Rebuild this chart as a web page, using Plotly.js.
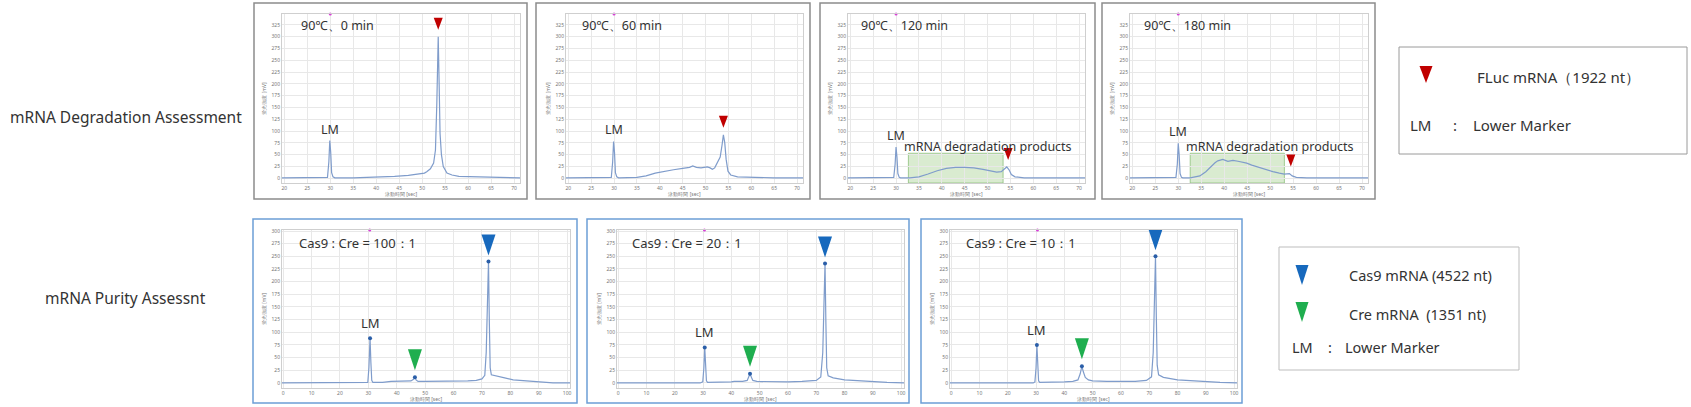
<!DOCTYPE html>
<html><head><meta charset="utf-8">
<script src="https://cdn.plot.ly/plotly-3.0.1.min.js"></script>
<style>html,body{margin:0;padding:0;background:#fff}#chart{width:1691px;height:407px}</style>
</head><body><div id="chart"></div>
<script>
// ---------- DATA ----------
// Degradation assessment (90°C heat): migration time (sec) vs signal (mV)
const deg0_x  = [19.5,25,29,29.4,29.7,29.9,30.1,30.3,30.6,31,35,40,44,47,49,50.5,51,51.8,52.5,52.9,53.2,53.5,53.7,53.9,54.2,54.6,55.4,56.5,58,62,66,71.3];
const deg0_y  = [1,1,1,2,35,80,55,12,3,1,1,2,4,6,8,11,14,20,32,60,160,300,200,95,50,25,11,7,4,3,2,1];
const deg60_x = [19.5,25,29,29.4,29.7,29.9,30.1,30.3,30.6,31,35,37,39,41,43,45,46.5,47.2,48,49,50.4,51,51.5,52,52.6,53.2,53.6,53.9,54.2,54.5,54.9,55.5,57,60,65,71.3];
const deg60_y = [1,1,1,2,35,78,55,12,3,1,2,5,11,15,18,21,23,26,23,22,24,22,19,22,32,45,70,92,75,40,15,7,3,2,1,1];
const deg120_x = [19.5,25,29,29.5,29.8,30,30.2,30.4,30.7,31,33,35,37,39,41,43,45,47,49,51,52,53,53.7,54.2,54.7,55.2,56,58,71.3];
const deg120_y = [1,1,1,2,30,66,45,10,2,1,1,3,9,16,21,23,23,22,19,15,13,14,19,24,18,8,3,1,1];
const deg180_x = [19.5,25,29,29.5,29.8,30,30.2,30.4,30.7,31,32.6,34.7,36,36.9,38,38.6,39.7,40.8,41.9,43,44.9,46,47.7,49,50.6,52,53.1,54.2,54.8,55.7,58,71.3];
const deg180_y = [1,1,1,2,30,74,50,10,2,1,1,5,14,23,33,37,40,36,38,36,32,28,23,18,14,11,9,10,5,2,1,1];
// FLuc mRNA peak (x, y) per degradation panel
const flucPeakX = [53.5,53.9,54.5,54.5];
const flucPeakY = [300,92,24,10];
// Lower marker peak per degradation panel
const degLmX = [29.9,29.9,30,30];
const degLmY = [80,78,66,74];
// Degradation product region (sec) for 120 and 180 min
const degRegionStart = [32.7,32.6];
const degRegionEnd   = [53.4,53.1];
const degRegionTop   = [53,53];
const degTitles = ["90℃、0 min","90℃、60 min","90℃、120 min","90℃、180 min"];

// Purity assessment: Cas9 : Cre mixtures
const r100_x = [-0.4,10,20,29,29.8,30.2,30.6,30.9,31.2,31.6,35,38,42,45,45.9,46.4,46.8,47.5,50,55,60,65,68,70,71,71.5,71.9,72.3,72.6,72.9,73.3,75.3,78,81,85,90,93,95,101];
const r100_y = [0,0,0,0,1,30,88,40,5,1,1,3,3,4,7,11,6,3,3,3,3,4,5,8,15,60,150,240,120,30,16,14,10,6,4,2,1,0,0];
const r20_x = [-0.4,10,20,29,29.9,30.3,30.6,30.9,31.2,31.6,35,40,41,44,45.6,46.2,46.6,47,47.6,49,55,60,65,70,71.6,72.3,72.7,73.1,73.4,73.7,74.2,76,80,85,90,95,101];
const r20_y = [0,0,0,0,2,30,70,30,4,1,1,2,3,3,5,14,18,12,5,3,2,2,3,5,12,60,150,236,120,30,14,10,6,4,2,1,0];
const r10_x = [-0.4,10,20,29,29.6,30,30.3,30.6,30.9,31.3,35,40,43,44.8,45.6,46.2,46.7,47.4,48.5,50,55,60,65,69,70.8,71.4,71.8,72.2,72.5,72.8,73.3,75,80,85,90,95,101];
const r10_y = [0,0,0,0,2,30,75,30,4,1,1,2,3,6,18,33,22,11,6,4,3,3,3,5,12,60,150,250,130,35,16,11,6,4,2,1,0];
const purLmX  = [30.6,30.6,30.3];  const purLmY  = [88,70,75];
const creX    = [46.4,46.6,46.2];  const creY    = [11,18,33];
const cas9X   = [72.3,73.1,72.2];  const cas9Y   = [240,236,250];
const purTitles = ["Cas9 : Cre = 100：1","Cas9 : Cre = 20：1","Cas9 : Cre = 10：1"];

const rowLabels = ["mRNA Degradation Assessment","mRNA Purity Assessnt"];
const legTop = ["FLuc mRNA（1922 nt）","LM",":","Lower Marker"];
const legBot = ["Cas9 mRNA (4522 nt)","Cre mRNA  (1351 nt)","LM",":","Lower Marker"];

// ---------- LAYOUT ----------
const W=1691, H=407;
const px = v => v/W, py = v => 1 - v/H;
const FONT = "Noto Sans, DejaVu Sans, sans-serif";
const LINE = '#7f9ccb', RED='#c00000', BLUE='#1769bd', GREEN='#1fae4f';

const topDom = [[282,520],[566,803],[848,1085],[1130,1368]];
const botDom = [[282,570],[617,904],[950,1237]];
const topFrames = [[254,527],[536,810],[820,1095],[1102,1375]];
const botFrames = [[253,577],[587,909],[921,1242]];
const topRange=[-10,348], botRange=[-10,302];
const xTopRange=[19.5,71.3], xBotRange=[-0.4,101];

const layout = {width:W, height:H, margin:{l:0,r:0,t:0,b:0}, showlegend:false,
  paper_bgcolor:'#fff', plot_bgcolor:'#fff', font:{family:FONT, color:'#333'},
  shapes:[], annotations:[]};
const data = [];

function axes(i, dom, yDom, xr, yr, dx){
  const xk = i===1?'xaxis':'xaxis'+i, yk = i===1?'yaxis':'yaxis'+i;
  layout[xk] = {domain:[px(dom[0]),px(dom[1])], range:xr, dtick:dx, tick0:0, anchor:'y'+(i===1?'':i),
    showgrid:true, gridcolor:'#e8e8e8', gridwidth:1, zeroline:false, showline:true, mirror:true, linecolor:'#cfcfcf',
    ticks:'', tickfont:{size:5,color:'#777'},
    title:{text:'泳動時間 [sec]', font:{size:5,color:'#777'}, standoff:2}};
  layout[yk] = {domain:yDom, range:yr, dtick:25, tick0:0, anchor:'x'+(i===1?'':i),
    showgrid:true, gridcolor:'#e8e8e8', gridwidth:1, zeroline:false, showline:true, mirror:true, linecolor:'#cfcfcf',
    ticks:'', tickfont:{size:5,color:'#777'},
    title:{text:'蛍光強度 [mV]', font:{size:5,color:'#777'}, standoff:4}};
  return [i===1?'x':'x'+i, i===1?'y':'y'+i];
}
function tri(xref,yref,xa,ya,w,h,gap,color){
  return {type:'path', xref, yref, xsizemode:'pixel', ysizemode:'pixel', xanchor:xa, yanchor:ya,
    path:`M${-w/2},${gap+h} L${w/2},${gap+h} L0,${gap} Z`, fillcolor:color, line:{width:0}, layer:'above'};
}
function frame(x0,x1,y0,y1,color,w){
  layout.shapes.push({type:'rect', xref:'paper', yref:'paper', x0:px(x0), x1:px(x1), y0:py(y1), y1:py(y0),
    line:{color, width:w||1.5}, fillcolor:'rgba(0,0,0,0)'});
}
function ann(text,x,y,size,anchor){
  layout.annotations.push({text, xref:'paper', yref:'paper', x:px(x), y:py(y), xanchor:anchor||'left',
    yanchor:'middle', showarrow:false, font:{size, color:'#333', family:FONT}});
}

const topY = [py(183), py(14)], botY = [py(388), py(230)];
const degX = [deg0_x,deg60_x,deg120_x,deg180_x], degY=[deg0_y,deg60_y,deg120_y,deg180_y];
const titleTopX = [299,580,859,1142];
for(let k=0;k<4;k++){
  const [xa,ya] = axes(k+1, topDom[k], topY, xTopRange, topRange, 5);
  data.push({x:degX[k], y:degY[k], xaxis:xa, yaxis:ya, type:'scatter', mode:'lines', line:{color:LINE,width:1.2}});
  data.push({x:[30], y:[topRange[1]], xaxis:xa, yaxis:ya, type:'scatter', mode:'markers', cliponaxis:false,
    marker:{size:3,color:'#d63fd6'}});
  layout.shapes.push(tri(xa,ya,flucPeakX[k],flucPeakY[k],9,12,7,RED));
  layout.annotations.push({text:'LM', xref:xa, yref:ya, x:degLmX[k], y:degLmY[k], yanchor:'bottom', yshift:1,
    showarrow:false, font:{size:12.5,color:'#333',family:FONT}});
  frame(topFrames[k][0],topFrames[k][1],3,199,'#8c8c8c');
  ann(degTitles[k], titleTopX[k], 26, 12.5);
}
for(let j=0;j<2;j++){
  const xa = 'x'+(j+3), ya='y'+(j+3);
  layout.shapes.push({type:'rect', xref:xa, yref:ya, x0:degRegionStart[j], x1:degRegionEnd[j], y0:topRange[0], y1:degRegionTop[j],
    fillcolor:'rgba(170,210,150,0.45)', line:{color:'rgba(130,185,110,0.7)',width:1}, layer:'below'});
}
ann('mRNA degradation products', 902, 146, 12.5);
ann('mRNA degradation products', 1184, 146, 12.5);

const purX=[r100_x,r20_x,r10_x], purY=[r100_y,r20_y,r10_y];
const titleBotX=[297,630,964];
for(let k=0;k<3;k++){
  const [xa,ya] = axes(k+5, botDom[k], botY, xBotRange, botRange, 10);
  data.push({x:purX[k], y:purY[k], xaxis:xa, yaxis:ya, type:'scatter', mode:'lines', line:{color:LINE,width:1.2}});
  data.push({x:[purLmX[k],creX[k],cas9X[k]], y:[purLmY[k],creY[k],cas9Y[k]], xaxis:xa, yaxis:ya, type:'scatter', mode:'markers',
    marker:{size:4,color:'#2a5ea8'}});
  data.push({x:[30.5], y:[botRange[1]], xaxis:xa, yaxis:ya, type:'scatter', mode:'markers', cliponaxis:false,
    marker:{size:3,color:'#d63fd6'}});
  layout.shapes.push(tri(xa,ya,creX[k],creY[k],14,21,7,GREEN));
  layout.shapes.push(tri(xa,ya,cas9X[k],cas9Y[k],14,21,6,BLUE));
  layout.annotations.push({text:'LM', xref:xa, yref:ya, x:purLmX[k], y:purLmY[k], yanchor:'bottom', yshift:4,
    showarrow:false, font:{size:13,color:'#333',family:FONT}});
  frame(botFrames[k][0],botFrames[k][1],219,403,'#6c9fd6');
  ann(purTitles[k], titleBotX[k], 243, 13);
}

// Row labels
ann(rowLabels[0], 126, 117, 15.5, 'center');
ann(rowLabels[1], 125, 298, 15.5, 'center');

// Legend (top)
frame(1399,1687,47,154,'#9a9a9a',1);
layout.shapes.push({type:'path', xref:'paper', yref:'paper', xsizemode:'pixel', ysizemode:'pixel', xanchor:px(1426), yanchor:py(83),
  path:'M-6.5,17 L6.5,17 L0,0 Z', fillcolor:RED, line:{width:0}});
ann(legTop[0], 1475, 77, 15);
ann(legTop[1], 1408, 125, 15);
ann(legTop[2], 1451, 125, 15);
ann(legTop[3], 1471, 125, 15);

// Legend (bottom)
frame(1279,1519,247,370,'#bdbdbd',1);
layout.shapes.push({type:'path', xref:'paper', yref:'paper', xsizemode:'pixel', ysizemode:'pixel', xanchor:px(1302), yanchor:py(285),
  path:'M-6.5,20 L6.5,20 L0,0 Z', fillcolor:BLUE, line:{width:0}});
layout.shapes.push({type:'path', xref:'paper', yref:'paper', xsizemode:'pixel', ysizemode:'pixel', xanchor:px(1302), yanchor:py(322),
  path:'M-6.5,20 L6.5,20 L0,0 Z', fillcolor:GREEN, line:{width:0}});
ann(legBot[0], 1347, 275, 14.5);
ann(legBot[1], 1347, 314, 14.5);
ann(legBot[2], 1290, 347, 14.5);
ann(legBot[3], 1326, 347, 14.5);
ann(legBot[4], 1343, 347, 14.5);

Plotly.newPlot('chart', data, layout, {staticPlot:true});
</script></body></html>
